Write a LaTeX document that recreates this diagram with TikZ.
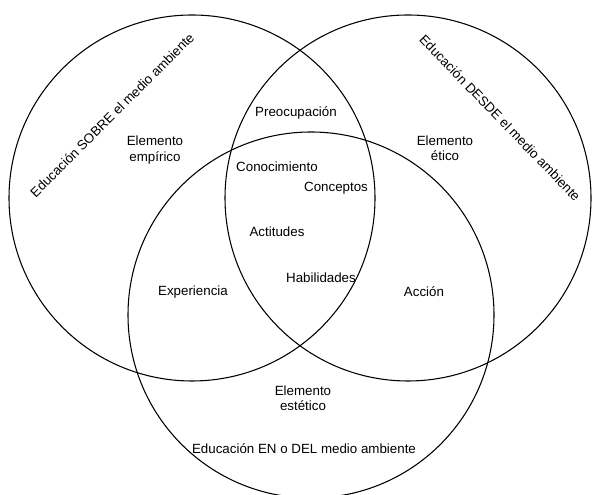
\documentclass[tikz,border=0pt]{standalone}
\usepackage{fontspec}
\setmainfont{Liberation Sans}
\usepackage{tikz}

\begin{document}
\begin{tikzpicture}[x=0.75pt, y=0.75pt, font=\fontsize{10}{11.5}\selectfont,
    area/.style={circle, draw, line width=0.8pt, minimum size=366*0.75pt, inner sep=0pt},
    lbl/.style={align=center, inner sep=1pt}]
    \useasboundingbox (0,0) rectangle (592,495);

    \node[area] (sobre) at (192,297) {};
    \node[area] (desde) at (408,297) {};
    \node[area] (en) at (311,180) {};

    \node[lbl, rotate=45] (tsobre) at (112,380) {Educación SOBRE el medio ambiente};
    \node[lbl, rotate=-46] (tdesde) at (500,377) {Educación DESDE el medio ambiente};
    \node[lbl] (ten) at (304,46) {Educación EN o DEL medio ambiente};

    \node[lbl] (empirico) at (155,345) {Elemento\\empírico};
    \node[lbl] (etico) at (445,347) {Elemento\\ético};
    \node[lbl] (estetico) at (303,97) {Elemento\\estético};

    \node[lbl] (preoc) at (296,382) {Preocupación};
    \node[lbl] (conoc) at (277,328) {Conocimiento};
    \node[lbl] (concep) at (336,307) {Conceptos};
    \node[lbl] (actit) at (277,263) {Actitudes};
    \node[lbl] (habil) at (321,217) {Habilidades};
    \node[lbl] (exper) at (193,203) {Experiencia};
    \node[lbl] (accion) at (424,203) {Acción};
\end{tikzpicture}
\end{document}
